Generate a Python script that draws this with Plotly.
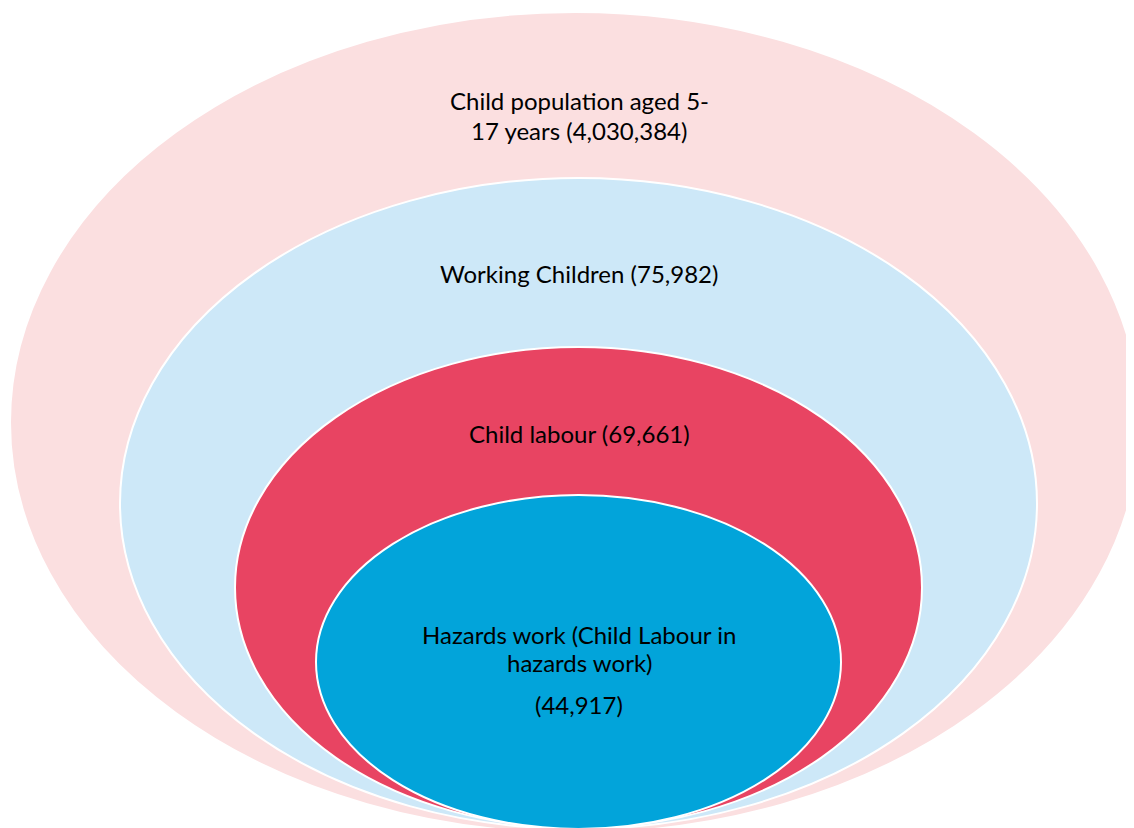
import plotly.graph_objects as go

# Nested groups (outer to inner)
labels = [
    ["Child population aged 5-", "17 years (4,030,384)"],
    ["Working Children (75,982)"],
    ["Child labour (69,661)"],
    ["Hazards work (Child Labour in", "hazards work)", "(44,917)"],
]
colors = ["#FBDFE0", "#CDE8F8", "#E84462", "#02A4DA"]

# ellipse boxes in page pixels: x0, x1, top, bottom
boxes = [
    (10, 1140, 12, 833),
    (120, 1037, 178, 829),
    (235, 922, 347, 828),
    (316, 841, 495, 829),
]
# y of each text line
text_y = [
    [100, 130],
    [273],
    [433],
    [634, 662, 704],
]

W, H = 1134, 828
OFF = 8  # page body margin

fig = go.Figure()

for (x0, x1, y0, y1), c in zip(boxes, colors):
    fig.add_shape(type="circle", xref="x", yref="y",
                  x0=x0, x1=x1, y0=y0, y1=y1,
                  fillcolor=c, line=dict(color="white", width=2), layer="below")

for lines, ys in zip(labels, text_y):
    for t, y in zip(lines, ys):
        fig.add_annotation(x=579, y=y, text=t, showarrow=False,
                           font=dict(family="Lato, Carlito, sans-serif", size=24, color="black"),
                           xanchor="center", yanchor="middle")

fig.update_xaxes(range=[OFF, W], visible=False, fixedrange=True)
fig.update_yaxes(range=[H, OFF], visible=False, fixedrange=True)
fig.update_layout(width=W - OFF, height=H - OFF, margin=dict(l=0, r=0, t=0, b=0),
                  plot_bgcolor="white", paper_bgcolor="white", showlegend=False)

fig.write_html("out.html")
